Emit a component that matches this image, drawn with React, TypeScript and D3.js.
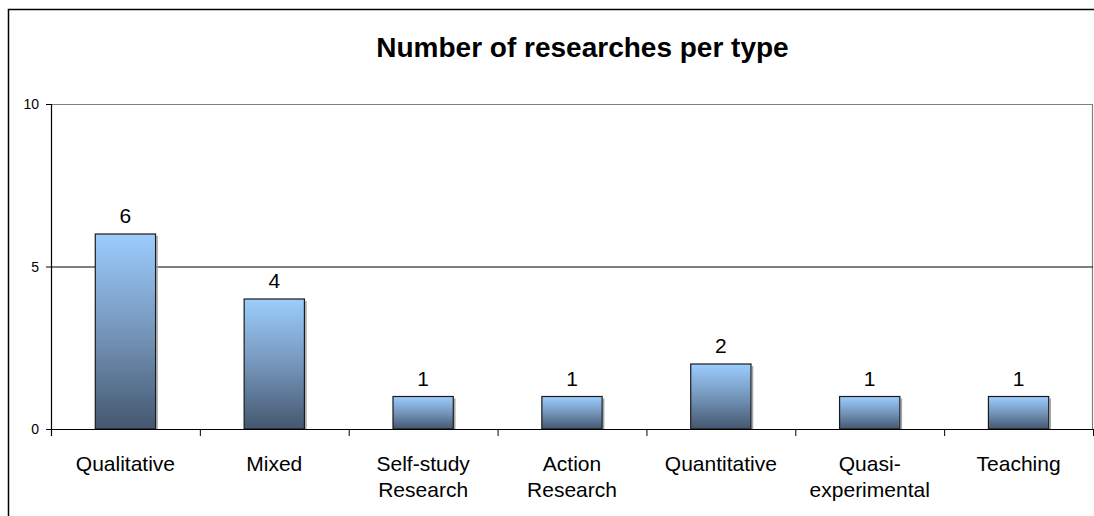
import React from "react";
import * as d3 from "d3";

const categories = ["Qualitative", "Mixed", "Self-study\nResearch", "Action\nResearch", "Quantitative", "Quasi-\nexperimental", "Teaching"];
const values = [6, 4, 1, 1, 2, 1, 1];
const yTicks = [0, 5, 10];
const title = "Number of researches per type";

const W = 1094;
const H = 516;
const plot = { left: 51, right: 1093, top: 104, bottom: 429 };
const font = "'Liberation Sans', Arial, sans-serif";

export default function App() {
  const x = d3
    .scaleBand<string>()
    .domain(categories)
    .range([plot.left, plot.right])
    .paddingInner(0)
    .paddingOuter(0);
  const y = d3.scaleLinear().domain([0, 10]).range([plot.bottom, plot.top]);
  const bw = x.bandwidth() * 0.405;
  const boundaries = categories.map((c) => x(c) as number).concat([plot.right]);

  return (
    <svg
      width={W}
      height={H}
      style={{ position: "absolute", left: 0, top: 0, background: "#fff" }}
      fontFamily={font}
    >
      <defs>
        <linearGradient id="barGrad" x1="0" y1="0" x2="0" y2="1">
          <stop offset="0" stopColor="#9ccdfd" />
          <stop offset="0.5" stopColor="#7596bb" />
          <stop offset="1" stopColor="#44576f" />
        </linearGradient>
      </defs>
      {/* outer chart border */}
      <rect x={8.5} y={9.5} width={W + 20} height={H + 20} fill="#fff" stroke="#000" strokeWidth={1.5} />
      {/* title */}
      <text x={582.5} y={57} textAnchor="middle" fontWeight="bold" fontSize={28} fill="#000">
        {title}
      </text>
      {/* plot area border (top/right) */}
      <line x1={plot.left} x2={plot.right} y1={plot.top + 0.5} y2={plot.top + 0.5} stroke="#808080" strokeWidth={1.2} />
      <line x1={plot.right - 0.5} x2={plot.right - 0.5} y1={plot.top} y2={plot.bottom} stroke="#808080" strokeWidth={1.2} />
      {/* gridlines */}
      {yTicks
        .filter((t) => t !== 0 && t !== 10)
        .map((t) => (
          <line key={t} x1={plot.left} x2={plot.right} y1={y(t) + 0.5} y2={y(t) + 0.5} stroke="#000" strokeWidth={1} />
        ))}
      {/* bars */}
      {values.map((v, i) => {
        const cx = (x(categories[i]) as number) + x.bandwidth() / 2;
        const bx = cx - bw / 2;
        const by = y(v);
        return (
          <g key={i}>
            <line x1={bx + bw + 1.5} x2={bx + bw + 1.5} y1={by + 2} y2={plot.bottom} stroke="#a6a6a6" strokeWidth={1.5} />
            <rect x={bx} y={by} width={bw} height={plot.bottom - by} fill="url(#barGrad)" stroke="#1a1a1a" strokeWidth={1.2} />
            <text x={cx} y={by - 11} textAnchor="middle" fontSize={21} fill="#000">
              {v}
            </text>
          </g>
        );
      })}
      {/* y axis */}
      <line x1={plot.left + 0.5} x2={plot.left + 0.5} y1={plot.top} y2={plot.bottom + 7} stroke="#000" strokeWidth={1.2} />
      {yTicks.map((t) => (
        <g key={t}>
          <line x1={plot.left - 5} x2={plot.left} y1={y(t) + 0.5} y2={y(t) + 0.5} stroke="#000" strokeWidth={1} />
          <text x={39} y={y(t) + 5} textAnchor="end" fontSize={14} fill="#000">
            {t}
          </text>
        </g>
      ))}
      {/* x axis */}
      <line x1={plot.left} x2={plot.right} y1={plot.bottom + 0.5} y2={plot.bottom + 0.5} stroke="#000" strokeWidth={1.2} />
      {boundaries.map((b, i) => (
        <line key={i} x1={b + 0.5} x2={b + 0.5} y1={plot.bottom} y2={plot.bottom + 7} stroke="#000" strokeWidth={1} />
      ))}
      {categories.map((c, i) => {
        const cx = (x(c) as number) + x.bandwidth() / 2;
        return (
          <text key={c} textAnchor="middle" fontSize={21} fill="#000">
            {c.split("\n").map((line, j) => (
              <tspan key={j} x={cx} y={471 + j * 26}>
                {line}
              </tspan>
            ))}
          </text>
        );
      })}
    </svg>
  );
}
